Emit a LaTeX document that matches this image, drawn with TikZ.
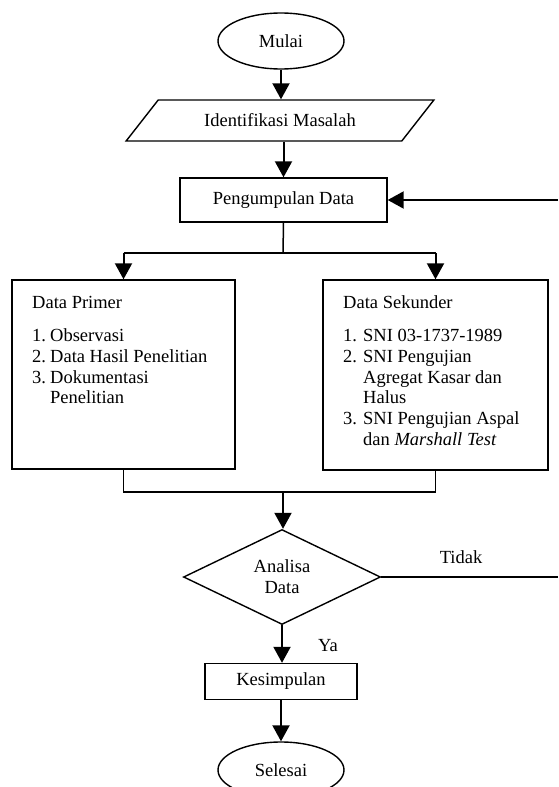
\documentclass[tikz,border=0pt]{standalone}
\usepackage{fontspec}
\setmainfont{Liberation Serif}
\usetikzlibrary{positioning}
\usetikzlibrary{arrows.meta,shapes.geometric}

\begin{document}
\begin{tikzpicture}[x=1pt,y=-1pt,
  every node/.style={inner sep=0pt,font=\fontsize{18.5}{20.8}\selectfont},
  kotak/.style={draw=black,line width=1.4pt,rectangle},
  ujung/.style={draw=black,line width=1.4pt,ellipse,minimum width=126pt,minimum height=56pt},
  panah/.style={line width=2pt,-{Triangle[width=17pt,length=16pt]}},
  garis/.style={line width=1.5pt}]
\useasboundingbox (0,0) rectangle (558,787);
\node[ujung] (mulai) at (281,41) {Mulai};
\node[trapezium,draw=black,line width=1.4pt,trapezium left angle=33.5,trapezium right angle=146.5,
  trapezium stretches=true,minimum width=308pt,minimum height=41pt] (identifikasi) at (280,120.5) {Identifikasi Masalah};
\node[kotak,minimum width=207pt,minimum height=44pt] (pengumpulan) at (283.5,200) {Pengumpulan Data};
\node[kotak,minimum width=223pt,minimum height=189pt] (primer) at (123.5,374.5) {};
\node[kotak,minimum width=225pt,minimum height=190pt] (sekunder) at (435.5,375) {};
\node[anchor=north west] (isiprimer) at (32,294) {%
\begin{tabular}{@{}p{18pt}@{}l@{}}
\multicolumn{2}{@{}l@{}}{Data Primer}\\[12pt]
1. & Observasi\\
2. & Data Hasil Penelitian\\
3. & Dokumentasi\\
   & Penelitian
\end{tabular}};
\node[anchor=north west] (isisekunder) at (343,294) {%
\begin{tabular}{@{}p{20pt}@{}l@{}}
\multicolumn{2}{@{}l@{}}{Data Sekunder}\\[12pt]
1. & SNI 03-1737-1989\\
2. & SNI Pengujian\\
   & Agregat Kasar dan\\
   & Halus\\
3. & SNI Pengujian Aspal\\
   & dan \textit{Marshall Test}
\end{tabular}};
\node[diamond,draw=black,line width=1.4pt,minimum width=197pt,minimum height=95pt,align=center] (analisa) at (282,577) {Analisa\\Data};
\node[kotak,minimum width=152pt,minimum height=36pt] (kesimpulan) at (281,681.5) {Kesimpulan};
\node[ujung] (selesai) at (281,770) {Selesai};
\node (tidak) at (461,557) {Tidak};
\node (ya) at (328,646) {Ya};
\coordinate (cabang) at (283,253);
\coordinate (gabung) at (283,492);
\coordinate (tidakujung) at (558,577);
\coordinate (balikujung) at (558,200);

\draw[panah] (mulai.south) -- (mulai.south |- identifikasi.north);
\draw[panah] (pengumpulan.north |- identifikasi.south) -- (pengumpulan.north);
\draw[garis] (pengumpulan.south) -- (cabang);
\draw[garis] (primer.north |- cabang) -- (sekunder.north |- cabang);
\draw[panah] (primer.north |- cabang) -- (primer.north);
\draw[panah] (sekunder.north |- cabang) -- (sekunder.north);
\draw[line width=1.2pt] (primer.south) -- (primer.south |- gabung) -- (sekunder.south |- gabung) -- (sekunder.south);
\draw[panah] (gabung) -- (gabung |- analisa.north);
\draw[panah] (analisa.south) -- (analisa.south |- kesimpulan.north);
\draw[panah] (kesimpulan.south) -- (kesimpulan.south |- selesai.north);
\draw[line width=2pt] (analisa.east) -- (tidakujung);
\draw[panah] (balikujung) -- (pengumpulan.east);
\end{tikzpicture}
\end{document}
